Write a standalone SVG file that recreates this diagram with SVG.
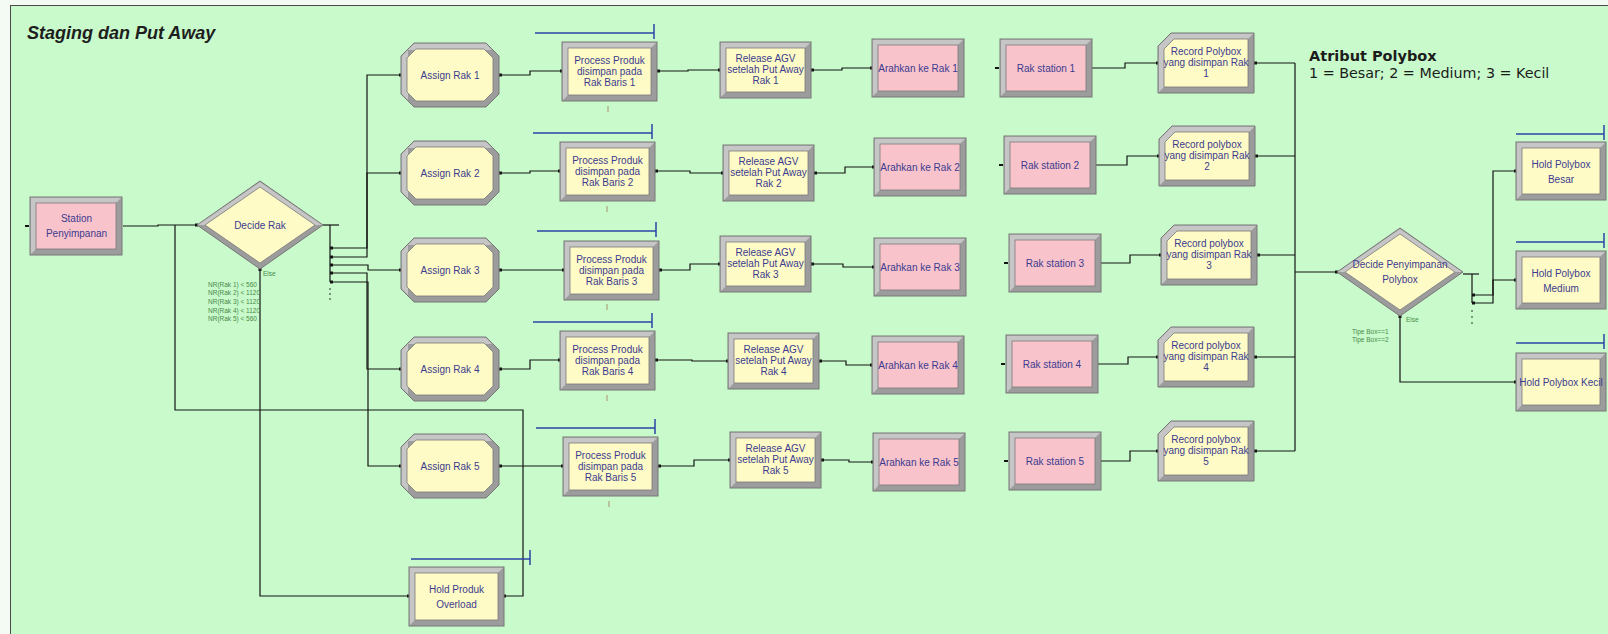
<svg xmlns="http://www.w3.org/2000/svg" xmlns:xlink="http://www.w3.org/1999/xlink" width="1608" height="634" viewBox="0 0 1608 634">
  <style>
    .bz{fill:#9c9c9c;stroke:#777;stroke-width:1}
    .hl{fill:#c6c6c6}
    .yf{fill:#fffbc6;stroke:#7a7a7a;stroke-width:.8}
    .pf{fill:#f8c3cb;stroke:#7a7a7a;stroke-width:.8}
    .lbl{font-family:"Liberation Sans",Arial,sans-serif;font-size:10px;fill:#3b3b8f;text-anchor:middle}
    .cond{font-family:"Liberation Sans",Arial,sans-serif;font-size:6.5px;fill:#4a8a4a}
    .cn{fill:none;stroke:#141414;stroke-width:1.2}
    .q{fill:none;stroke:#2b45a6;stroke-width:1.5}
    .cnt{fill:none;stroke:#b4b48c;stroke-width:1.5}
    .pt{fill:#141414}
  </style>
  <defs>
    <!-- Assign module: beveled octagon -->
    <g id="asg">
      <polygon class="bz" points="13,0 85,0 98,13 98,51 85,64 13,64 0,51 0,13"/>
      <polygon class="hl" points="13,0.8 85,0.8 91,7 7,7 7,57 0.8,51 0.8,13"/>
      <polygon class="yf" points="15,6 83,6 92,15 92,49 83,58 15,58 6,49 6,15"/>
    </g>
    <!-- Process / Hold module 95x59 -->
    <g id="yb95">
      <rect class="bz" x="0" y="0" width="95" height="59"/>
      <path class="hl" d="M0.8 0.8H94.2L89 6H6V53L0.8 58.2Z"/>
      <rect class="yf" x="6" y="6" width="83" height="47"/>
    </g>
    <!-- Release module 91x56 -->
    <g id="yb91">
      <rect class="bz" x="0" y="0" width="91" height="56"/>
      <path class="hl" d="M0.8 0.8H90.2L85 6H6V50L0.8 55.2Z"/>
      <rect class="yf" x="6" y="6" width="79" height="44"/>
    </g>
    <!-- Hold Polybox module 90x58 -->
    <g id="yb90">
      <rect class="bz" x="0" y="0" width="90" height="58"/>
      <path class="hl" d="M0.8 0.8H89.2L84 6H6V52L0.8 57.2Z"/>
      <rect class="yf" x="6" y="6" width="78" height="46"/>
    </g>
    <!-- Station / Route module, pink 92x58 -->
    <g id="pb">
      <rect class="bz" x="0" y="0" width="92" height="58"/>
      <path class="hl" d="M0.8 0.8H91.2L86 6H6V52L0.8 57.2Z"/>
      <rect class="pf" x="6" y="6" width="80" height="46"/>
    </g>
    <!-- Record module: clipped top-left corner -->
    <g id="rec">
      <path class="bz" d="M13 0H96V60H0V13Z"/>
      <path class="hl" d="M13 0.8H95.2L90 6H16L6 16V54L0.8 59.2V13Z"/>
      <path class="yf" d="M16 6H90V54H6V16Z"/>
    </g>
    <!-- Decide module: diamond -->
    <g id="dec">
      <polygon class="bz" points="-63,0 0,-44 63,0 0,44"/>
      <polygon class="hl" points="-62,0 0,-43 62,0 54,0 0,-37 -54,0"/>
      <polygon class="yf" points="-55,0 0,-38 55,0 0,38"/>
    </g>
    <!-- queue bar drawn above queued modules -->
    <path id="qbar" class="q" d="M0 10H119M119 1V16"/>
  </defs>

  <rect x="0" y="0" width="1608" height="634" fill="#f4fbf4"/>
  <rect x="10.5" y="5.5" width="1620" height="640" fill="#c8facb" stroke="#4a4a4a" stroke-width="1"/>

  <text x="27" y="39" font-family="Liberation Sans, Arial, sans-serif" font-size="18" font-weight="bold" font-style="italic" fill="#1e1e1e">Staging dan Put Away</text>

  <g id="legend" font-family="DejaVu Sans, Verdana, sans-serif" fill="#1c1c1c">
    <text x="1309" y="61" font-size="14.5" font-weight="bold">Atribut Polybox</text>
    <text x="1309" y="78" font-size="14.3">1 = Besar; 2 = Medium; 3 = Kecil</text>
  </g>

  <!-- connectors -->
  <g id="connectors">
    <polyline class="cn" points="123,226 158,226 158,225 197,225"/>
    <polyline class="cn" points="323,225 339,225"/>
    <polyline class="cn" points="330,225 330,282"/>
    <polyline class="cn" points="330,248 367,248 367,75 401,75"/>
    <polyline class="cn" points="330,257 367,257 367,173 401,173"/>
    <polyline class="cn" points="330,265 368,265 368,270 401,270"/>
    <polyline class="cn" points="330,273 367,273 367,369 401,369"/>
    <polyline class="cn" points="330,282 368,282 368,466 401,466"/>
    <polyline class="cn" points="260,269 260,596 409,596"/>
    <polyline class="cn" points="504,596 523,596 523,410 175,410 175,225"/>

    <!-- row 1 -->
    <polyline class="cn" points="499,75 530,75 530,71 562,71"/>
    <polyline class="cn" points="657,71 688,71 688,70 720,70"/>
    <polyline class="cn" points="811,70 842,70 842,68 872,68"/>
    <polyline class="cn" points="1092,68 1125,68 1125,63 1158,63"/>
    <polyline class="cn" points="1254,63 1295,63"/>
    <!-- row 2 -->
    <polyline class="cn" points="499,173 530,173 530,171 560,171"/>
    <polyline class="cn" points="655,171 690,171 690,173 723,173"/>
    <polyline class="cn" points="814,173 845,173 845,167 874,167"/>
    <polyline class="cn" points="1096,165 1127,165 1127,156 1159,156"/>
    <polyline class="cn" points="1255,156 1295,156"/>
    <!-- row 3 -->
    <polyline class="cn" points="499,270 564,270"/>
    <polyline class="cn" points="659,270 690,270 690,264 720,264"/>
    <polyline class="cn" points="811,264 843,264 843,267 874,267"/>
    <polyline class="cn" points="1101,263 1130,263 1130,255 1161,255"/>
    <polyline class="cn" points="1257,255 1295,255"/>
    <!-- row 4 -->
    <polyline class="cn" points="499,369 530,369 530,360 560,360"/>
    <polyline class="cn" points="655,360 692,360 692,361 728,361"/>
    <polyline class="cn" points="819,361 846,361 846,365 872,365"/>
    <polyline class="cn" points="1098,364 1128,364 1128,357 1158,357"/>
    <polyline class="cn" points="1254,357 1295,357"/>
    <!-- row 5 -->
    <polyline class="cn" points="499,466 563,466"/>
    <polyline class="cn" points="658,466 694,466 694,460 730,460"/>
    <polyline class="cn" points="821,460 849,460 849,462 873,462"/>
    <polyline class="cn" points="1101,461 1130,461 1130,451 1158,451"/>
    <polyline class="cn" points="1254,451 1295,451"/>

    <polyline class="cn" points="1295,63 1295,451"/>
    <polyline class="cn" points="1295,272 1337,272"/>

    <polyline class="cn" points="1463,274 1479,274"/>
    <polyline class="cn" points="1472,274 1472,303"/>
    <polyline class="cn" points="1472,295 1493,295 1493,171 1516,171"/>
    <polyline class="cn" points="1472,303 1493,303 1493,280 1516,280"/>
    <polyline class="cn" points="1400,316 1400,382 1516,382"/>

    <!-- entry / exit points -->
    <g class="pt">
      <rect x="25" y="225" width="4" height="2"/>
      <rect x="195" y="223.5" width="3" height="3"/>
      <rect x="330" y="246.5" width="3" height="3"/>
      <rect x="330" y="255.5" width="3" height="3"/>
      <rect x="330" y="263.5" width="3" height="3"/>
      <rect x="330" y="271.5" width="3" height="3"/>
      <rect x="330" y="280.5" width="3" height="3"/>
      <circle cx="330" cy="289" r=".8"/><circle cx="330" cy="294" r=".8"/><circle cx="330" cy="299" r=".8"/>
      <rect x="258.5" y="268" width="3" height="3"/>
      <rect x="399" y="73.5" width="3" height="3"/>
      <rect x="399" y="171.5" width="3" height="3"/>
      <rect x="399" y="268.5" width="3" height="3"/>
      <rect x="399" y="367.5" width="3" height="3"/>
      <rect x="399" y="464.5" width="3" height="3"/>
      <rect x="499" y="73.5" width="3" height="3"/>
      <rect x="499" y="171.5" width="3" height="3"/>
      <rect x="499" y="268.5" width="3" height="3"/>
      <rect x="499" y="367.5" width="3" height="3"/>
      <rect x="499" y="464.5" width="3" height="3"/>
      <rect x="560" y="69.5" width="3" height="3"/>
      <rect x="558" y="169.5" width="3" height="3"/>
      <rect x="562" y="268.5" width="3" height="3"/>
      <rect x="558" y="358.5" width="3" height="3"/>
      <rect x="561" y="464.5" width="3" height="3"/>
      <rect x="657" y="69.5" width="3" height="3"/>
      <rect x="655" y="169.5" width="3" height="3"/>
      <rect x="659" y="268.5" width="3" height="3"/>
      <rect x="655" y="358.5" width="3" height="3"/>
      <rect x="658" y="464.5" width="3" height="3"/>
      <rect x="718" y="68.5" width="3" height="3"/>
      <rect x="721" y="171.5" width="3" height="3"/>
      <rect x="718" y="262.5" width="3" height="3"/>
      <rect x="726" y="359.5" width="3" height="3"/>
      <rect x="728" y="458.5" width="3" height="3"/>
      <rect x="811" y="68.5" width="3" height="3"/>
      <rect x="814" y="171.5" width="3" height="3"/>
      <rect x="811" y="262.5" width="3" height="3"/>
      <rect x="819" y="359.5" width="3" height="3"/>
      <rect x="821" y="458.5" width="3" height="3"/>
      <rect x="870" y="66.5" width="3" height="3"/>
      <rect x="872" y="165.5" width="3" height="3"/>
      <rect x="872" y="265.5" width="3" height="3"/>
      <rect x="870" y="363.5" width="3" height="3"/>
      <rect x="871" y="460.5" width="3" height="3"/>
      <rect x="995" y="67" width="4" height="2"/>
      <rect x="999" y="164" width="4" height="2"/>
      <rect x="1004" y="262" width="4" height="2"/>
      <rect x="1001" y="363" width="4" height="2"/>
      <rect x="1004" y="460" width="4" height="2"/>
      <rect x="1156" y="61.5" width="3" height="3"/>
      <rect x="1157" y="154.5" width="3" height="3"/>
      <rect x="1159" y="253.5" width="3" height="3"/>
      <rect x="1156" y="355.5" width="3" height="3"/>
      <rect x="1156" y="449.5" width="3" height="3"/>
      <rect x="1254" y="61.5" width="3" height="3"/>
      <rect x="1255" y="154.5" width="3" height="3"/>
      <rect x="1257" y="253.5" width="3" height="3"/>
      <rect x="1254" y="355.5" width="3" height="3"/>
      <rect x="1254" y="449.5" width="3" height="3"/>
      <rect x="1335" y="270.5" width="3" height="3"/>
      <rect x="1472" y="293.5" width="3" height="3"/>
      <rect x="1472" y="301.5" width="3" height="3"/>
      <circle cx="1472" cy="311" r=".8"/><circle cx="1472" cy="317" r=".8"/><circle cx="1472" cy="323" r=".8"/>
      <rect x="1398.5" y="315" width="3" height="3"/>
      <rect x="1514" y="169.5" width="3" height="3"/>
      <rect x="1514" y="278.5" width="3" height="3"/>
      <rect x="1514" y="380.5" width="3" height="3"/>
      <rect x="407" y="594.5" width="3" height="3"/>
      <rect x="503" y="594.5" width="3" height="3"/>
    </g>
  </g>

  <!-- entry station and first decision -->
  <g id="station-penyimpanan">
    <use href="#pb" x="30" y="197" transform="translate(0 0)"/>
    <text class="lbl" x="76.5" y="221.5">Station</text>
    <text class="lbl" x="76.5" y="236.5">Penyimpanan</text>
  </g>
  <g id="decide-rak">
    <use href="#dec" x="260" y="225"/>
    <text class="lbl" x="260" y="229">Decide Rak</text>
    <text class="cond" x="263" y="276">Else</text>
    <text class="cond" x="208" y="287">NR(Rak 1) &lt; 560</text>
    <text class="cond" x="208" y="295">NR(Rak 2) &lt; 1120</text>
    <text class="cond" x="208" y="304">NR(Rak 3) &lt; 1120</text>
    <text class="cond" x="208" y="313">NR(Rak 4) &lt; 1120</text>
    <text class="cond" x="208" y="321">NR(Rak 5) &lt; 560</text>
  </g>

  <!-- assign modules -->
  <g id="assign-rak-1"><use href="#asg" x="401" y="43"/><text class="lbl" x="450" y="78.5">Assign Rak 1</text></g>
  <g id="assign-rak-2"><use href="#asg" x="401" y="141"/><text class="lbl" x="450" y="176.5">Assign Rak 2</text></g>
  <g id="assign-rak-3"><use href="#asg" x="401" y="238"/><text class="lbl" x="450" y="273.5">Assign Rak 3</text></g>
  <g id="assign-rak-4"><use href="#asg" x="401" y="337"/><text class="lbl" x="450" y="372.5">Assign Rak 4</text></g>
  <g id="assign-rak-5"><use href="#asg" x="401" y="434"/><text class="lbl" x="450" y="469.5">Assign Rak 5</text></g>

  <!-- put-away process modules -->
  <g id="process-1">
    <use href="#qbar" x="535" y="23"/>
    <use href="#yb95" x="562" y="42"/>
    <text class="lbl" x="609.5" y="63.5">Process Produk</text>
    <text class="lbl" x="609.5" y="74.5">disimpan pada</text>
    <text class="lbl" x="609.5" y="85.5">Rak Baris 1</text>
    <path class="cnt" d="M608 106V112"/>
  </g>
  <g id="process-2">
    <use href="#qbar" x="533" y="123"/>
    <use href="#yb95" x="560" y="142"/>
    <text class="lbl" x="607.5" y="163.5">Process Produk</text>
    <text class="lbl" x="607.5" y="174.5">disimpan pada</text>
    <text class="lbl" x="607.5" y="185.5">Rak Baris 2</text>
    <path class="cnt" d="M607 206V212"/>
  </g>
  <g id="process-3">
    <use href="#qbar" x="537" y="221"/>
    <use href="#yb95" x="564" y="241"/>
    <text class="lbl" x="611.5" y="262.5">Process Produk</text>
    <text class="lbl" x="611.5" y="273.5">disimpan pada</text>
    <text class="lbl" x="611.5" y="284.5">Rak Baris 3</text>
    <path class="cnt" d="M607 304V310"/>
  </g>
  <g id="process-4">
    <use href="#qbar" x="533" y="312"/>
    <use href="#yb95" x="560" y="331"/>
    <text class="lbl" x="607.5" y="352.5">Process Produk</text>
    <text class="lbl" x="607.5" y="363.5">disimpan pada</text>
    <text class="lbl" x="607.5" y="374.5">Rak Baris 4</text>
    <path class="cnt" d="M607 395V401"/>
  </g>
  <g id="process-5">
    <use href="#qbar" x="536" y="418"/>
    <use href="#yb95" x="563" y="437"/>
    <text class="lbl" x="610.5" y="458.5">Process Produk</text>
    <text class="lbl" x="610.5" y="469.5">disimpan pada</text>
    <text class="lbl" x="610.5" y="480.5">Rak Baris 5</text>
    <path class="cnt" d="M609 501V507"/>
  </g>

  <!-- AGV release modules -->
  <g id="release-1"><use href="#yb91" x="720" y="42"/><text class="lbl" x="765.5" y="62">Release AGV</text><text class="lbl" x="765.5" y="73">setelah Put Away</text><text class="lbl" x="765.5" y="84">Rak 1</text></g>
  <g id="release-2"><use href="#yb91" x="723" y="145"/><text class="lbl" x="768.5" y="165">Release AGV</text><text class="lbl" x="768.5" y="176">setelah Put Away</text><text class="lbl" x="768.5" y="187">Rak 2</text></g>
  <g id="release-3"><use href="#yb91" x="720" y="236"/><text class="lbl" x="765.5" y="256">Release AGV</text><text class="lbl" x="765.5" y="267">setelah Put Away</text><text class="lbl" x="765.5" y="278">Rak 3</text></g>
  <g id="release-4"><use href="#yb91" x="728" y="333"/><text class="lbl" x="773.5" y="353">Release AGV</text><text class="lbl" x="773.5" y="364">setelah Put Away</text><text class="lbl" x="773.5" y="375">Rak 4</text></g>
  <g id="release-5"><use href="#yb91" x="730" y="432"/><text class="lbl" x="775.5" y="452">Release AGV</text><text class="lbl" x="775.5" y="463">setelah Put Away</text><text class="lbl" x="775.5" y="474">Rak 5</text></g>

  <!-- route modules -->
  <g id="arahkan-1"><use href="#pb" x="872" y="39"/><text class="lbl" x="918" y="72">Arahkan ke Rak 1</text></g>
  <g id="arahkan-2"><use href="#pb" x="874" y="138"/><text class="lbl" x="920" y="171">Arahkan ke Rak 2</text></g>
  <g id="arahkan-3"><use href="#pb" x="874" y="238"/><text class="lbl" x="920" y="271">Arahkan ke Rak 3</text></g>
  <g id="arahkan-4"><use href="#pb" x="872" y="336"/><text class="lbl" x="918" y="369">Arahkan ke Rak 4</text></g>
  <g id="arahkan-5"><use href="#pb" x="873" y="433"/><text class="lbl" x="919" y="466">Arahkan ke Rak 5</text></g>

  <!-- rack stations -->
  <g id="rak-station-1"><use href="#pb" x="1000" y="39"/><text class="lbl" x="1046" y="71.5">Rak station 1</text></g>
  <g id="rak-station-2"><use href="#pb" x="1004" y="136"/><text class="lbl" x="1050" y="168.5">Rak station 2</text></g>
  <g id="rak-station-3"><use href="#pb" x="1009" y="234"/><text class="lbl" x="1055" y="266.5">Rak station 3</text></g>
  <g id="rak-station-4"><use href="#pb" x="1006" y="335"/><text class="lbl" x="1052" y="367.5">Rak station 4</text></g>
  <g id="rak-station-5"><use href="#pb" x="1009" y="432"/><text class="lbl" x="1055" y="464.5">Rak station 5</text></g>

  <!-- record modules -->
  <g id="record-1"><use href="#rec" x="1158" y="33"/><text class="lbl" x="1206" y="54.5">Record Polybox</text><text class="lbl" x="1206" y="65.5">yang disimpan Rak</text><text class="lbl" x="1206" y="76.5">1</text></g>
  <g id="record-2"><use href="#rec" x="1159" y="126"/><text class="lbl" x="1207" y="147.5">Record  polybox</text><text class="lbl" x="1207" y="158.5">yang disimpan Rak</text><text class="lbl" x="1207" y="169.5">2</text></g>
  <g id="record-3"><use href="#rec" x="1161" y="225"/><text class="lbl" x="1209" y="246.5">Record  polybox</text><text class="lbl" x="1209" y="257.5">yang disimpan Rak</text><text class="lbl" x="1209" y="268.5">3</text></g>
  <g id="record-4"><use href="#rec" x="1158" y="327"/><text class="lbl" x="1206" y="348.5">Record  polybox</text><text class="lbl" x="1206" y="359.5">yang disimpan Rak</text><text class="lbl" x="1206" y="370.5">4</text></g>
  <g id="record-5"><use href="#rec" x="1158" y="421"/><text class="lbl" x="1206" y="442.5">Record  polybox</text><text class="lbl" x="1206" y="453.5">yang disimpan Rak</text><text class="lbl" x="1206" y="464.5">5</text></g>

  <!-- storage decision and holds -->
  <g id="decide-penyimpanan">
    <use href="#dec" x="1400" y="272"/>
    <text class="lbl" x="1400" y="268">Decide Penyimpanan</text>
    <text class="lbl" x="1400" y="283">Polybox</text>
    <text class="cond" x="1406" y="322">Else</text>
    <text class="cond" x="1352" y="334">Tipe Box==1</text>
    <text class="cond" x="1352" y="342">Tipe Box==2</text>
  </g>
  <g id="hold-besar">
    <path class="q" d="M1516 134H1604M1604 125V140"/>
    <use href="#yb90" x="1516" y="142"/>
    <text class="lbl" x="1561" y="168">Hold Polybox</text>
    <text class="lbl" x="1561" y="183">Besar</text>
  </g>
  <g id="hold-medium">
    <path class="q" d="M1516 242H1604M1604 233V248"/>
    <use href="#yb90" x="1516" y="251"/>
    <text class="lbl" x="1561" y="277">Hold Polybox</text>
    <text class="lbl" x="1561" y="292">Medium</text>
  </g>
  <g id="hold-kecil">
    <path class="q" d="M1516 343H1604M1604 334V349"/>
    <use href="#yb90" x="1516" y="353"/>
    <text class="lbl" x="1561" y="385.5">Hold Polybox Kecil</text>
  </g>
  <g id="hold-overload">
    <use href="#qbar" x="385" y="549" transform="translate(26 0)"/>
    <use href="#yb95" x="409" y="567"/>
    <text class="lbl" x="456.5" y="593">Hold Produk</text>
    <text class="lbl" x="456.5" y="608">Overload</text>
  </g>
</svg>
